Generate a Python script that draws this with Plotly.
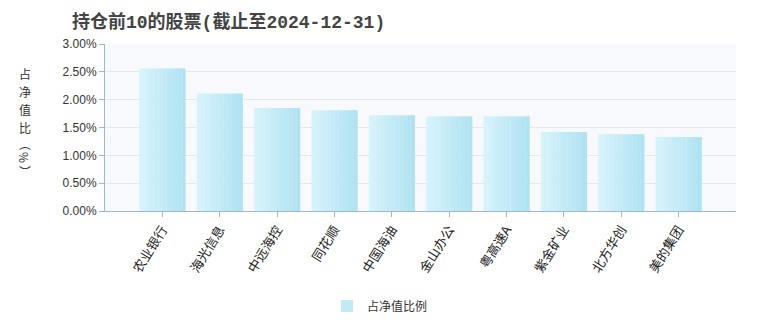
import plotly.graph_objects as go

categories = ["农业银行", "海光信息", "中远海控", "同花顺", "中国海油", "金山办公", "粤高速A", "紫金矿业", "北方华创", "美的集团"]
values = [2.56, 2.11, 1.85, 1.81, 1.72, 1.70, 1.70, 1.42, 1.38, 1.33]
y_ticks = [0, 0.5, 1.0, 1.5, 2.0, 2.5, 3.0]
y_tick_labels = ["0.00%", "0.50%", "1.00%", "1.50%", "2.00%", "2.50%", "3.00%"]
series_name = "占净值比例"
y_title_chars = ["占", "净", "值", "比", "︵", "%", "︶"]

c0 = (214, 243, 251)
c1 = (176, 226, 242)
N = 12
bar_w = 0.80

L, R, T, B = 105, 24, 44, 119
W, H = 760, 330
plot_h = H - T - B

fig = go.Figure()
for i in range(N):
    t = i / (N - 1)
    col = "rgb(%d,%d,%d)" % tuple(round(a + (b - a) * t) for a, b in zip(c0, c1))
    fig.add_trace(go.Bar(
        x=categories, y=values,
        width=bar_w / N + 0.004,
        offset=-bar_w / 2 + i * bar_w / N,
        marker=dict(color=col, line=dict(width=0)),
        name=series_name,
        showlegend=(i == N // 2),
        hoverinfo="skip",
    ))

y_px = [73, 91, 109, 127, 143, 157, 171]
annotations = []
for ch, yp in zip(y_title_chars, y_px):
    annotations.append(dict(
        text=ch, x=(25 - L) / (W - L - R), xref="paper", xanchor="center",
        y=1 - (yp - T) / plot_h, yref="paper", yanchor="middle",
        showarrow=False, textangle=90 if ch == "%" else 0,
        font=dict(size=12, color="#333", family="Noto Sans CJK SC"),
    ))

fig.update_layout(
    width=W, height=H,
    margin=dict(l=L, r=R, t=T, b=B),
    paper_bgcolor="white",
    plot_bgcolor="#f7f9fc",
    barmode="overlay",
    font=dict(family="Noto Sans CJK SC, Arial", size=12, color="#333"),
    title=dict(
        text="<b>持仓前10的股票(截止至2024-12-31)</b>",
        x=72 / W, xref="container", xanchor="left",
        y=1 - 22 / H, yref="container", yanchor="middle",
        font=dict(size=18, color="#444", family="Liberation Mono, Noto Sans CJK SC"),
    ),
    legend=dict(
        orientation="h", x=0.5, xref="container", xanchor="center",
        y=1 - 306 / H, yref="container", yanchor="middle",
        font=dict(size=12, color="#333"),
    ),
    xaxis=dict(
        type="category",
        range=[-1, len(categories)],
        tickangle=-58,
        ticks="outside", ticklen=5, tickcolor="#9fb8c9",
        showline=True, linecolor="#9fb8c9", linewidth=1,
        showgrid=False,
        tickfont=dict(size=13, color="#222", family="Noto Sans CJK SC"),
    ),
    yaxis=dict(
        range=[0, 3.0],
        tickvals=y_ticks, ticktext=y_tick_labels,
        ticks="outside", ticklen=5, tickcolor="#9fb8c9",
        showline=True, linecolor="#9fb8c9", linewidth=1,
        gridcolor="#e4e8ee", gridwidth=1,
        zeroline=False,
        tickfont=dict(size=12, color="#333", family="Arial"),
    ),
    annotations=annotations,
)

fig.write_html("out.html")
